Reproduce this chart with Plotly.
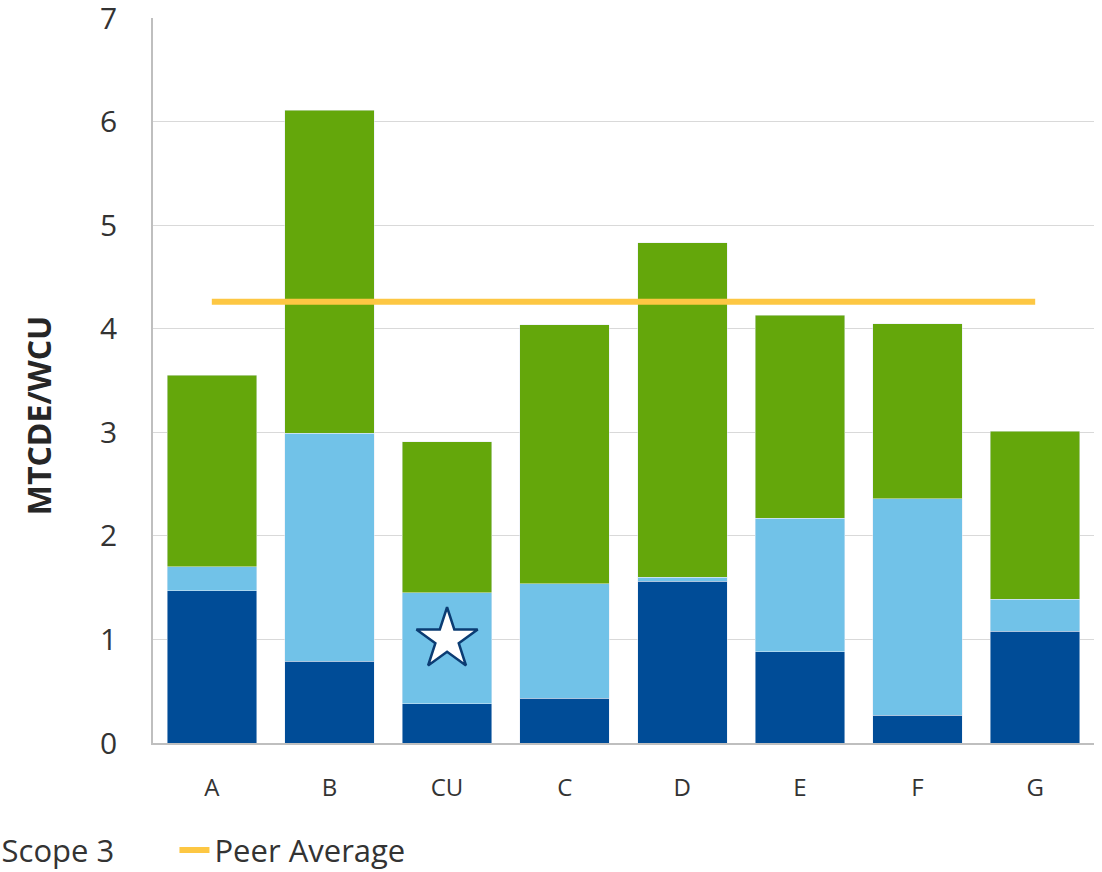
import plotly.graph_objects as go

categories = ['A', 'B', 'CU', 'C', 'D', 'E', 'F', 'G']
scope1 = [1.47, 0.79, 0.38, 0.43, 1.56, 0.88, 0.27, 1.08]
scope2 = [0.23, 2.20, 1.07, 1.11, 0.04, 1.29, 2.09, 0.31]
scope3 = [1.85, 3.12, 1.46, 2.50, 3.23, 1.96, 1.69, 1.62]
peer_average = [4.26] * len(categories)
highlight_cat = ['CU']
highlight_val = [1.0]
y_ticks = [0, 1, 2, 3, 4, 5, 6, 7]

fig = go.Figure()
fig.add_trace(go.Bar(x=categories, y=scope1, name='Scope 1', marker_color='#004C97'))
fig.add_trace(go.Bar(x=categories, y=scope2, name='Scope 2', marker_color='#71C2E8'))
fig.add_trace(go.Bar(x=categories, y=scope3, name='Scope 3', marker_color='#64A70B'))
fig.add_trace(go.Scatter(x=categories, y=peer_average, name='Peer Average', mode='lines',
                         line=dict(color='#FDC743', width=6), legend='legend2'))
fig.add_trace(go.Scatter(x=highlight_cat, y=highlight_val, mode='markers', showlegend=False,
                         marker=dict(symbol='star', size=46, color='white',
                                     line=dict(color='#0B3C73', width=2.5))))

legend_font = dict(size=31, color='#333333')
fig.update_layout(
    width=1102, height=872,
    barmode='stack', bargap=0.24,
    plot_bgcolor='white', paper_bgcolor='white',
    font=dict(family='Open Sans', color='#262626'),
    margin=dict(l=153, r=8, t=18, b=129, autoexpand=False),
    showlegend=True,
    # legend pushed partly off the left edge, as in the reference
    legend=dict(orientation='h', traceorder='normal', x=-0.671, xanchor='left',
                entrywidth=175, y=-0.148, yanchor='middle', font=legend_font),
    legend2=dict(orientation='h', x=0.0228, xanchor='left',
                 y=-0.148, yanchor='middle', font=legend_font),
)
fig.add_annotation(text='<b>MTCDE/WCU</b>', textangle=-90, xref='paper', yref='paper',
                   x=-0.122, y=0.451, xanchor='center', yanchor='middle', showarrow=False,
                   font=dict(size=32, color='#262626'))
fig.update_xaxes(showline=True, linecolor='#bfbfbf', linewidth=1.5,
                 tickfont=dict(size=24, color='#333333'), ticks='', ticklabelstandoff=22)
fig.update_yaxes(range=[0, 7.001], tickmode='array', tickvals=y_ticks,
                 showgrid=True, gridcolor='#d9d9d9', gridwidth=1.2,
                 showline=True, linecolor='#bfbfbf', linewidth=1.5, zeroline=False,
                 ticklabeloverflow='allow',
                 tickfont=dict(size=30, color='#333333'), ticklabelstandoff=28)

# drop the default 8px body margin so the figure sits at the page corner
fig.write_html("out.html", config={'displayModeBar': False},
               post_script="document.body.style.margin='0';")
